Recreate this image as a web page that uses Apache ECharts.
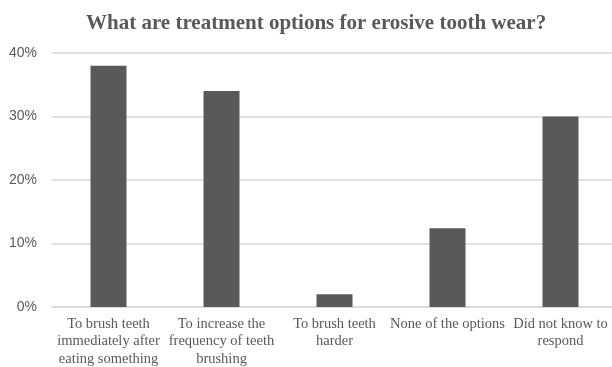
<!DOCTYPE html>
<html>
<head>
<meta charset="utf-8">
<script src="https://cdn.jsdelivr.net/npm/echarts@6/dist/echarts.min.js"></script>
<style>
  html, body { margin: 0; padding: 0; background: #fff; }
  #chart { width: 612px; height: 367px; }
</style>
</head>
<body>
<div id="chart"></div>
<script>
// Survey answers and the share of respondents choosing each one (%)
const categories = [
  'To brush teeth\nimmediately after\neating something',
  'To increase the\nfrequency of teeth\nbrushing',
  'To brush teeth\nharder',
  'None of the options',
  'Did not know to\nrespond'
];
const shares = [38, 34, 2, 12.4, 30];
const yTicks = [0, 10, 20, 30, 40];

const chart = echarts.init(document.getElementById('chart'), null, { renderer: 'canvas' });

chart.setOption({
  animation: false,
  title: {
    text: 'What are treatment options for erosive tooth wear?',
    left: 81,
    top: 8,
    textStyle: {
      fontFamily: 'Liberation Serif',
      fontWeight: 'bold',
      fontSize: 21,
      color: '#595959'
    }
  },
  grid: {
    left: 52, top: 53, bottom: 60, width: 565,
    containLabel: false,
    outerBoundsMode: 'none'
  },
  xAxis: {
    type: 'category',
    data: categories,
    axisLine: { show: true, lineStyle: { color: '#d9d9d9', width: 1.5 } },
    axisTick: { show: false },
    axisLabel: {
      interval: 0,
      margin: 8,
      fontFamily: 'Liberation Serif',
      fontSize: 14.5,
      lineHeight: 17.5,
      color: '#595959'
    }
  },
  yAxis: {
    type: 'value',
    min: yTicks[0],
    max: yTicks[yTicks.length - 1],
    interval: 10,
    axisLine: { show: false },
    axisTick: { show: false },
    splitLine: { lineStyle: { color: '#d9d9d9', width: 1.5 } },
    axisLabel: {
      margin: 15,
      fontFamily: 'Liberation Sans',
      fontSize: 14,
      color: '#595959',
      formatter: v => v + '%'
    }
  },
  series: [{
    type: 'bar',
    data: shares,
    barWidth: 36,
    itemStyle: { color: '#595959' }
  }]
});
</script>
</body>
</html>
